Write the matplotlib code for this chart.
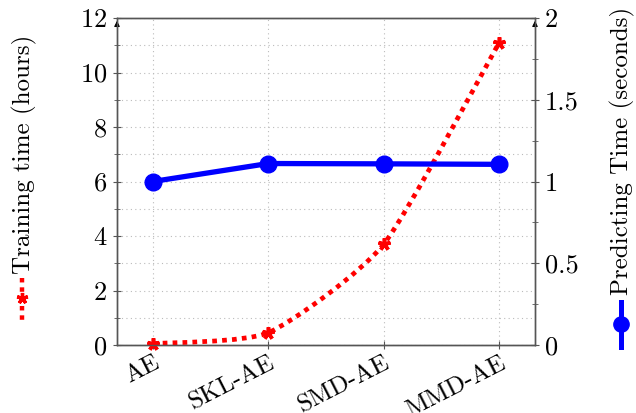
import numpy as np
import matplotlib.pyplot as plt
from matplotlib.path import Path
from matplotlib.patches import PathPatch
from matplotlib.lines import Line2D
from matplotlib.ticker import MultipleLocator, FuncFormatter

plt.rcParams['font.family'] = 'serif'
plt.rcParams['font.serif'] = ['cmr10', 'DejaVu Serif']
plt.rcParams['axes.formatter.use_mathtext'] = True

# data
models = ['AE', 'SKL-AE', 'SMD-AE', 'MMD-AE']
train_hours = [0.05, 0.45, 3.7, 11.1]
predict_sec = [1.0, 1.11, 1.108, 1.105]

fig = plt.figure(figsize=(6.36, 4.13), dpi=100)
ax = fig.add_axes([117/636, 1-345/413, (535-117)/636, (345-18)/413])
ax2 = ax.twinx()

x = np.arange(len(models))
red = '#ff0000'
blue = '#0000ff'

# smooth red curve (bezier through the data points)
def smooth_path(xs, ys, t=0.2):
    verts = [(xs[0], ys[0])]
    codes = [Path.MOVETO]
    n = len(xs)
    for i in range(n - 1):
        x0, y0 = xs[max(i - 1, 0)], ys[max(i - 1, 0)]
        x1, y1 = xs[i], ys[i]
        x2, y2 = xs[i + 1], ys[i + 1]
        x3, y3 = xs[min(i + 2, n - 1)], ys[min(i + 2, n - 1)]
        c1 = (x1 + (x2 - x0) * t / 2, y1 + (y2 - y0) * t / 2)
        c2 = (x2 - (x3 - x1) * t / 2, y2 - (y3 - y1) * t / 2)
        verts += [c1, c2, (x2, y2)]
        codes += [Path.CURVE4] * 3
    return Path(verts, codes)

ax.add_patch(PathPatch(smooth_path(list(x), train_hours), fill=False, edgecolor=red,
                       lw=3.4, linestyle=(0, (1, 1.1)), zorder=3))
ax.plot(x, train_hours, linestyle='none', marker=(5, 2, 0), markersize=9, mew=2.6,
        color=red, zorder=4, clip_on=False)

ax2.plot(x, predict_sec, color=blue, lw=3.8, marker='o', markersize=12, zorder=4)

ax.set_xlim(-0.31, 3.31)
ax.set_ylim(0, 12)
ax2.set_ylim(0, 2)
ax.set_xticks(x)
ax.set_xticklabels(models, rotation=27, ha='right', rotation_mode='anchor', fontsize=18)
ax.yaxis.set_major_locator(MultipleLocator(2))
ax.yaxis.set_minor_locator(MultipleLocator(1))
ax2.yaxis.set_major_locator(MultipleLocator(0.5))
ax2.yaxis.set_minor_locator(MultipleLocator(0.25))
ax2.yaxis.set_major_formatter(FuncFormatter(lambda v, p: ('%g' % v)))
ax.tick_params(axis='y', labelsize=19, direction='inout', length=6, color='#555555', pad=4)
ax.tick_params(axis='y', which='minor', direction='inout', length=4, color='#555555')
ax.tick_params(axis='x', direction='inout', length=6, color='#555555', pad=2)
ax2.tick_params(axis='y', labelsize=19, direction='inout', length=6, color='#555555', pad=4)
ax2.tick_params(axis='y', which='minor', direction='inout', length=4, color='#555555')

ax.grid(True, which='both', linestyle=(0, (1, 3)), color='#bbbbbb', lw=0.8)
ax.set_axisbelow(True)

for a in (ax, ax2):
    for s in a.spines.values():
        s.set_color('#555555')
        s.set_linewidth(1.0)
ax2.set_zorder(ax.get_zorder() + 1)
ax2.patch.set_visible(False)

# arrow tips on the vertical axes
for xa in (0, 1):
    ax.annotate('', xy=(xa, 1.0), xytext=(xa, 0.97), xycoords='axes fraction',
                arrowprops=dict(arrowstyle='-|>', color='black', lw=0.8, mutation_scale=8))

# axis labels with legend images
fig.text(24/636, 1-154/413, 'Training time (hours)', rotation=90, ha='center', va='center', fontsize=18)
fig.add_artist(Line2D([22/636, 22/636], [1-278/413, 1-322/413], color=red, lw=3.2,
                      linestyle=(0, (1, 1.1))))
fig.add_artist(Line2D([22/636], [1-298/413], color=red, marker=(5, 2, 0), markersize=8, mew=2.4))

fig.text(622/636, 1-151/413, 'Predicting Time (seconds)', rotation=90, ha='center', va='center', fontsize=18)
fig.add_artist(Line2D([621/636, 621/636], [1-302/413, 1-347/413], color=blue, lw=3.6))
fig.add_artist(Line2D([621/636], [1-324/413], color=blue, marker='o', markersize=11))

fig.savefig('out.png', dpi=100)
